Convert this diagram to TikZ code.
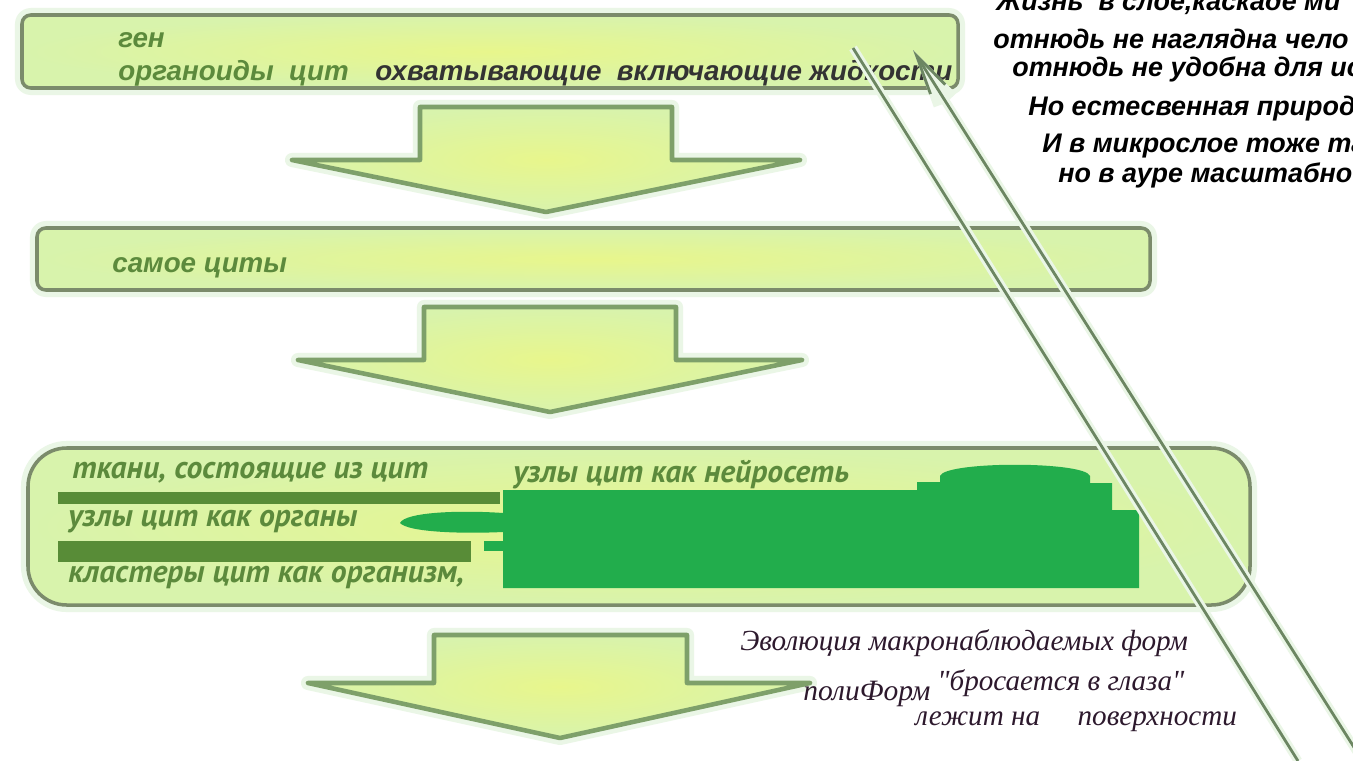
\documentclass[tikz,border=0pt]{standalone}
\usepackage{fontspec}
\setmainfont{Liberation Serif}
\newfontfamily\headfont{Liberation Sans}
\newfontfamily\tissuefont{PT Sans}
\newfontfamily\notefont{Liberation Serif}[Ligatures=TeXOff]
\usetikzlibrary{arrows.meta}
\definecolor{edgegrey}{RGB}{123,139,107}
\definecolor{arrowedge}{RGB}{126,160,106}
\definecolor{boxyellow}{RGB}{232,246,140}
\definecolor{boxgreen}{RGB}{216,243,172}
\definecolor{labelgreen}{RGB}{92,138,60}
\definecolor{barolive}{RGB}{88,140,55}
\definecolor{blobgreen}{RGB}{34,173,76}
\definecolor{rayline}{RGB}{108,134,98}
\definecolor{haze}{RGB}{234,246,230}
\definecolor{inkpurple}{RGB}{45,25,45}

\begin{document}
\begin{tikzpicture}[x=0.02cm,y=-0.02cm,
    layerbox/.style={preaction={draw=haze,line width=8pt,line join=round},draw=edgegrey,line width=2pt,
      shading=radial,inner color=boxyellow,outer color=boxgreen},
    flowarrow/.style={preaction={draw=haze,line width=8pt,line join=round},draw=arrowedge,line width=2.6pt,
      line join=round,shading=radial,inner color=boxyellow,outer color=boxgreen},
    headlabel/.style={anchor=west,inner sep=0pt,font=\headfont\bfseries\itshape\fontsize{15.8}{19}\selectfont},
    tissuelabel/.style={anchor=west,inner sep=0pt,text=labelgreen,font=\tissuefont\bfseries\itshape\fontsize{18}{22}\selectfont},
    poemline/.style={anchor=base west,inner sep=0pt,font=\headfont\bfseries\itshape\fontsize{15.3}{18}\selectfont},
    noteline/.style={anchor=west,inner sep=0pt,text=inkpurple,font=\notefont\itshape\fontsize{16.6}{19}\selectfont},
    ray/.style={preaction={draw=haze,line width=5pt},draw=rayline,line width=1.6pt}]
  \clip (0,0) rectangle (1353,761);
  \fill[white] (0,0) rectangle (1353,761);

  % layers
  \filldraw[layerbox,rounded corners=5] (22,15) rectangle (958,88);
  \filldraw[layerbox,rounded corners=5] (37,228) rectangle (1150,290);
  \filldraw[layerbox,rounded corners=22] (28,448) rectangle (1250,605);

  % block arrows
  \filldraw[flowarrow] (420,107) -- (672,107) -- (672,160) -- (800,160) -- (546,212)
    -- (292,160) -- (420,160) -- cycle;
  \filldraw[flowarrow] (424,307) -- (676,307) -- (676,360) -- (802,360) -- (550,412)
    -- (298,360) -- (424,360) -- cycle;
  \filldraw[flowarrow] (434,635) -- (687,635) -- (687,683) -- (810,683) -- (560,738)
    -- (308,683) -- (434,683) -- cycle;

  \node[headlabel,text=labelgreen] (gen) at (118,40) {ген};
  \node[headlabel,text=labelgreen] (organoids) at (118,73) {органоиды\ \ цит};
  \node[headlabel,text=black!80] (fluids) at (375,73) {охватывающие\ \ включающие жидкости};
  \node[headlabel,text=labelgreen] (cites) at (112,268) {самое циты};

  % painted-over part of the third layer
  \fill[barolive] (58,492) rectangle (500,504);
  \fill[barolive] (58,541) rectangle (471,562);
  \fill[blobgreen] (484,541) rectangle (503,551);
  \fill[blobgreen] (400,523) .. controls (405,512) and (460,510) .. (503,513)
    -- (503,532) .. controls (460,534) and (408,532) .. (400,523);
  \fill[blobgreen] (503,490) -- (917,490) -- (917,482) -- (940,482) -- (940,476)
    .. controls (945,461) and (1085,461) .. (1090,476) -- (1090,483) -- (1112,483)
    -- (1112,510) -- (1139,510) -- (1139,588) -- (503,588) -- cycle;

  \node[tissuelabel] (tissues) at (72,473) {ткани, состоящие из цит};
  \node[tissuelabel] (neuronet) at (513,475) {узлы цит как нейросеть};
  \node[tissuelabel] (organs) at (68,522) {узлы цит как органы};
  \node[tissuelabel] (organism) at (68,578) {кластеры цит как организм,};

  % verse, cut by the right edge
  \node[poemline] (verse1) at (996,10) {Жизнь\ \ в слое,каскаде ми};
  \node[poemline] (verse2) at (993,48) {отнюдь не наглядна чело};
  \node[poemline] (verse3) at (1012,76) {отнюдь не удобна для ис};
  \node[poemline] (verse4) at (1028,115) {Но естесвенная природ};
  \node[poemline] (verse5) at (1042,152) {И в микрослое тоже та};
  \node[poemline] (verse6) at (1058,182) {но в ауре масштабно};

  \node[noteline] (evolution) at (740,643) {Эволюция макронаблюдаемых форм};
  \node[noteline,font=\notefont\itshape\fontsize{16.8}{20}\selectfont] (poliform) at (803,694) {полиФорм};
  \node[noteline] (striking) at (937,683) {"бросается в глаза"};
  \node[noteline] (surface) at (915,722) {лежит на\hspace{0.75cm}поверхности};

  % rays
  \coordinate (raytopA) at (853,48);
  \coordinate (raybotA) at (1298,761);
  \coordinate (raytopB) at (913,50);
  \coordinate (raybotB) at (1357,752);
  \draw[ray] (raytopA) -- (raybotA);
  \draw[ray,-{Straight Barb[length=8mm,width=3.5mm]}] (raybotB) -- (raytopB);
\end{tikzpicture}
\end{document}
